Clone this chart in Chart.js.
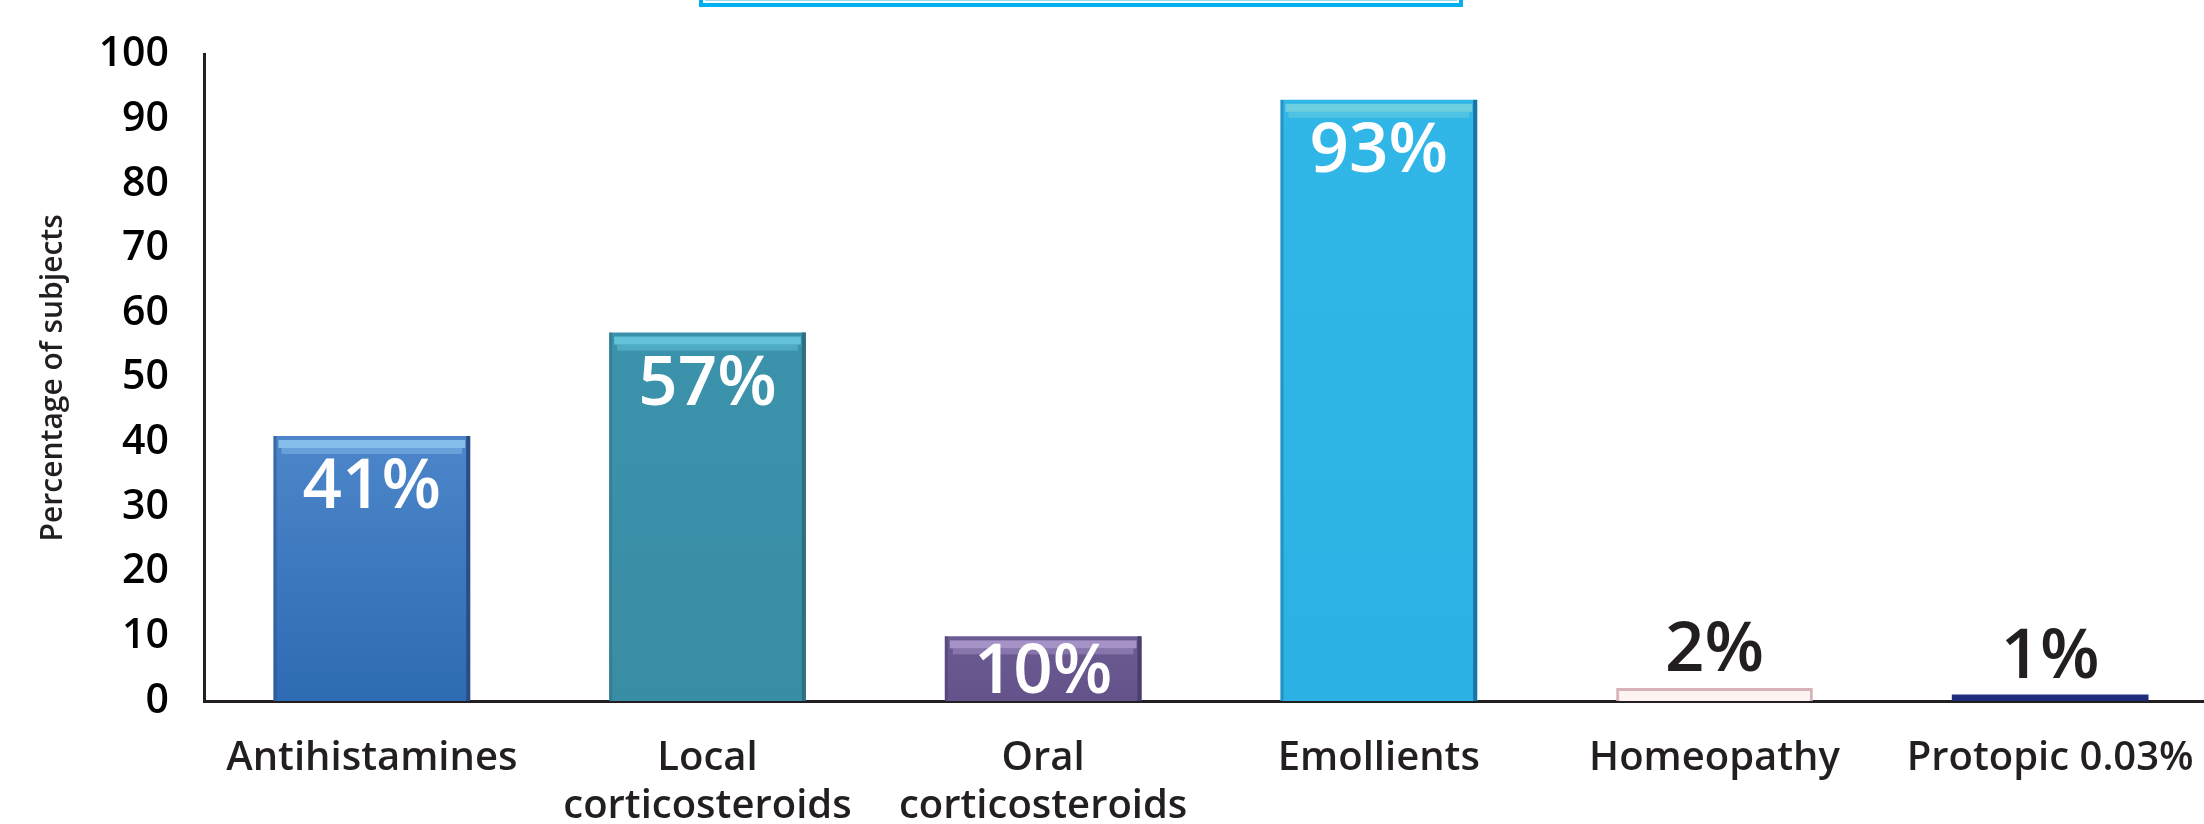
<!DOCTYPE html>
<html>
<head>
<meta charset="utf-8">
<script src="https://cdn.jsdelivr.net/npm/chart.js@4.4.1/dist/chart.umd.min.js"></script>
<style>
  html, body { margin: 0; padding: 0; background: #fff; overflow: hidden; width: 2204px; height: 824px; }
  #wrap { position: absolute; left: 0; top: -5px; width: 2218px; height: 829px; }
  #titleBox {
    position: absolute; left: 699px; top: -60px; width: 756px; height: 59px;
    border: 4px solid #00b0f0;
    box-shadow: inset 0 0 0 2px #fff, inset 0 0 0 3px #9ad9f3;
  }
</style>
</head>
<body>
<div id="wrap"><canvas id="treatmentsChart"></canvas></div>
<div id="titleBox"></div>
<script>
// Chart data
const categories = ['Antihistamines', ['Local', 'corticosteroids'], ['Oral', 'corticosteroids'], 'Emollients', 'Homeopathy', 'Protopic 0.03%'];
const values = [41, 57, 10, 93, 2, 1];
const valueLabels = ['41%', '57%', '10%', '93%', '2%', '1%'];
const yTitle = 'Percentage of subjects';

// Bar styling
const barTop = ['#4d86ca', '#3b93ab', '#6c5b93', '#31b7e7', '#fdf3f3', '#203080'];
const barBottom = ['#2d6bb3', '#398da5', '#64538b', '#2bb1e3', '#fdf3f3', '#1d2c78'];
const highlight = ['#86bdea', '#62c3da', '#a592c6', '#6ccfe0', null, null];
const edge = ['#2b4d82', '#2e6f84', '#4a3e6c', '#1c72a3', null, null];
const labelColors = ['#ffffff', '#ffffff', '#ffffff', '#ffffff', '#231f20', '#231f20'];

const FONT = '"Open Sans", Lato, sans-serif';

// highlight strips, edges and value labels
const barDecor = {
    id: 'barDecor',
    afterDatasetsDraw(chart) {
        const ctx = chart.ctx;
        const base = chart.scales.y.getPixelForValue(0);
        chart.getDatasetMeta(0).data.forEach((bar, i) => {
            const left = bar.x - bar.width / 2;
            const right = bar.x + bar.width / 2;
            const h = base - bar.y;
            ctx.save();
            if (highlight[i] && h > 20) {
                ctx.fillStyle = highlight[i];
                ctx.fillRect(left + 5, bar.y + 4, bar.width - 10, 8);
                ctx.globalAlpha = 0.5;
                ctx.fillRect(left + 8, bar.y + 12, bar.width - 16, 6);
                ctx.globalAlpha = 1;
            }
            if (edge[i]) {
                ctx.fillStyle = edge[i];
                ctx.fillRect(right - 4, bar.y, 4, h);
                ctx.globalAlpha = 0.5;
                ctx.fillRect(left, bar.y, 3, h);
                ctx.globalAlpha = 1;
            }
            // value label
            ctx.font = '600 69px ' + FONT;
            ctx.textAlign = 'center';
            ctx.textBaseline = 'alphabetic';
            ctx.fillStyle = labelColors[i];
            let y;
            if (labelColors[i] === '#ffffff') {
                y = Math.min(bar.y + 72, base - 8);
            } else {
                y = bar.y - 17;
            }
            ctx.fillText(valueLabels[i], bar.x, y);
            ctx.restore();
        });
    }
};

const ctx = document.getElementById('treatmentsChart').getContext('2d');
const treatmentsChart = new Chart(ctx, {
    type: 'bar',
    data: {
        labels: categories,
        datasets: [{
            data: values,
            backgroundColor: function(c) {
                const chart = c.chart;
                const i = c.dataIndex;
                if (!chart.chartArea) return barTop[i];
                const yTop = chart.scales.y.getPixelForValue(values[i]);
                const yBase = chart.scales.y.getPixelForValue(0);
                const g = chart.ctx.createLinearGradient(0, yTop, 0, yBase);
                g.addColorStop(0, barTop[i]);
                g.addColorStop(1, barBottom[i]);
                return g;
            },
            borderColor: ['#2b4d82', '#2e6f84', '#4a3e6c', '#1c72a3', '#d8b2b8', '#1a2870'],
            borderWidth: [0, 0, 0, 0, 3, 0],
            borderSkipped: 'bottom',
            barPercentage: 0.586,
            categoryPercentage: 1.0
        }]
    },
    options: {
        responsive: true,
        maintainAspectRatio: false,
        animation: false,
        layout: { padding: { top: 22, right: 0, left: 0, bottom: 0 } },
        plugins: {
            legend: { display: false },
            tooltip: { enabled: false }
        },
        scales: {
            x: {
                grid: { display: false, drawTicks: false },
                border: { display: true, color: '#231f20', width: 3 },
                ticks: {
                    color: '#231f20',
                    padding: 34,
                    maxRotation: 0,
                    autoSkip: false,
                    font: { family: FONT, size: 40, weight: '600', lineHeight: 1.2 }
                },
                afterFit: function(scale) {
                    scale.height = 123;
                    scale.paddingLeft = 0;
                    scale.paddingRight = 0;
                }
            },
            y: {
                min: 0,
                max: 100,
                grid: { display: false, drawTicks: false },
                border: { display: true, color: '#231f20', width: 3 },
                ticks: {
                    stepSize: 10,
                    color: '#000',
                    padding: 35,
                    font: { family: FONT, size: 41, weight: '600' }
                },
                title: {
                    display: true,
                    text: yTitle,
                    color: '#231f20',
                    padding: { top: 35, bottom: 0 },
                    font: { family: FONT, size: 30, weight: '600' }
                },
                afterFit: function(scale) { scale.width = 204; }
            }
        }
    },
    plugins: [barDecor]
});
</script>
</body>
</html>
